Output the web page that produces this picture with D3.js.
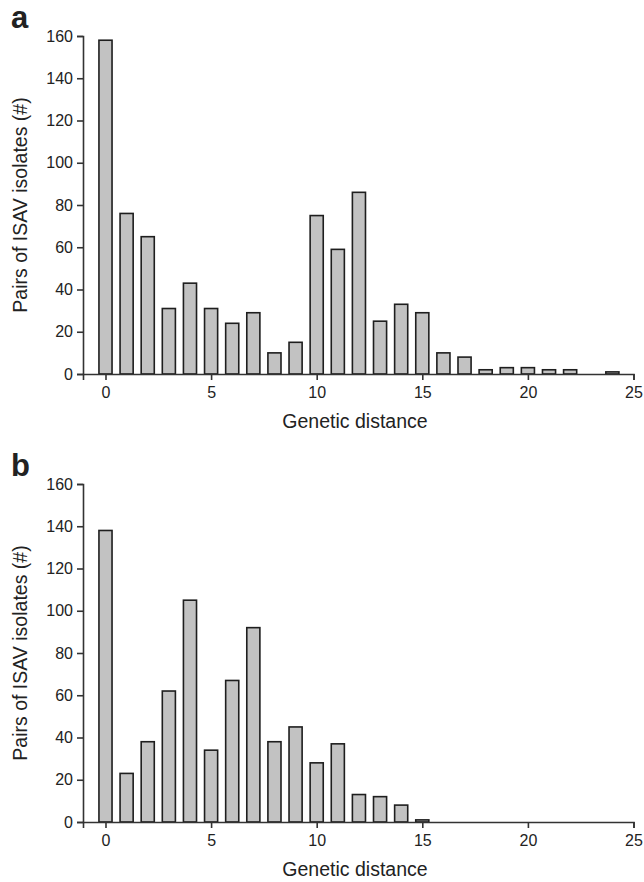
<!DOCTYPE html>
<html>
<head>
<meta charset="utf-8">
<script src="https://cdn.jsdelivr.net/npm/d3@7"></script>
<style>
  html, body { margin: 0; padding: 0; background: #fff; }
  svg { display: block; }
  text { font-family: "Liberation Sans", Arial, Helvetica, sans-serif; fill: #222; }
</style>
</head>
<body>
<svg id="chart" width="644" height="882"></svg>
<script>
// Genetic distance categories (0..24)
const distances = [0,1,2,3,4,5,6,7,8,9,10,11,12,13,14,15,16,17,18,19,20,21,22,23,24];
// Panel a counts
const countsA = [158,76,65,31,43,31,24,29,10,15,75,59,86,25,33,29,10,8,2,3,3,2,2,0,1];
// Panel b counts
const countsB = [138,23,38,62,105,34,67,92,38,45,28,37,13,12,8,1,0,0,0,0,0,0,0,0,0];
const xTicks = [0,5,10,15,20,25];
const yTicks = [0,20,40,60,80,100,120,140,160];
const panelLabels = ["a","b"];
const xTitle = "Genetic distance";
const yTitle = "Pairs of ISAV isolates (#)";

const svg = d3.select("#chart");

function panel(counts, label, top) {
  const y0 = top + 338, y1 = top;
  const x = d3.scaleLinear().domain([-1.065, 25]).range([83, 633.5]);
  const y = d3.scaleLinear().domain([0, 160]).range([y0, y1]);
  const g = svg.append("g");
  const barW = x(0.62) - x(0);

  g.append("g").selectAll("rect")
    .data(distances.map((d, i) => ({d, v: counts[i]})).filter(o => o.v > 0))
    .join("rect")
    .attr("x", o => x(o.d) - barW / 2)
    .attr("width", barW)
    .attr("y", o => y(o.v))
    .attr("height", o => y(0) - y(o.v))
    .attr("fill", "#c2c2c2")
    .attr("stroke", "#1e1e1e")
    .attr("stroke-width", 1.6);

  const xa = g.append("g").attr("transform", `translate(0,${y0})`)
    .call(d3.axisBottom(x).tickValues(xTicks).tickSizeOuter(0).tickSize(6).tickPadding(7));
  const ya = g.append("g").attr("transform", `translate(83,0)`)
    .call(d3.axisLeft(y).tickValues(yTicks).tickSizeOuter(0).tickSize(6).tickPadding(4));
  [xa, ya].forEach(a => {
    a.selectAll("path,line").attr("stroke", "#333").attr("stroke-width", 1.6);
    a.selectAll("text").attr("font-size", 16).attr("fill", "#222")
      .attr("font-family", "'Liberation Sans', Arial, sans-serif");
  });

  g.append("text").attr("x", 355).attr("y", y0 + 54)
    .attr("text-anchor", "middle").attr("font-size", 19.5).text(xTitle);
  g.append("text")
    .attr("transform", `translate(27,${(y0 + y1) / 2}) rotate(-90)`)
    .attr("text-anchor", "middle").attr("font-size", 19.5).text(yTitle);
  g.append("text").attr("x", 11).attr("y", top - 8)
    .attr("font-size", 31).attr("font-weight", "bold").attr("fill", "#111").text(label);
}

panel(countsA, panelLabels[0], 36);
panel(countsB, panelLabels[1], 484);
</script>
</body>
</html>
